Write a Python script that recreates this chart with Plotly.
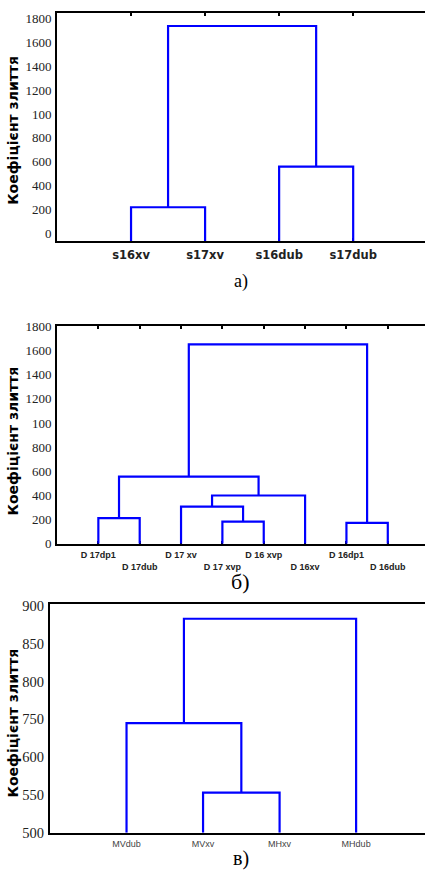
import plotly.graph_objects as go

W, H = 425, 877

# ---------------- data ----------------
# Panel а)
a_leaves = ["s16xv", "s17xv", "s16dub", "s17dub"]
a_merges = [(0, 1), (2, 3), (4, 5)]
a_heights = [217, 559, 1740]
a_ytickvals = [0, 200, 400, 600, 800, 1000, 1200, 1400, 1600, 1800]
a_yticktext = ["0", "200", "400", "600", "800", "100", "1200", "1400", "1600", "1800"]

# Panel б)
b_leaves = ["D 17dp1", "D 17dub", "D 17 xv", "D 17 xvp", "D 16 xvp", "D 16xv", "D 16dp1", "D 16dub"]
b_merges = [(0, 1), (3, 4), (2, 9), (10, 5), (8, 11), (6, 7), (12, 13)]
b_heights = [212, 182, 307, 399, 556, 173, 1651]
b_ytickvals = a_ytickvals
b_yticktext = a_yticktext

# Panel в) (axis units; tick labels as printed)
c_leaves = ["MVdub", "MVxv", "MHxv", "MHdub"]
c_merges = [(1, 2), (0, 4), (5, 3)]
c_heights = [553, 645, 783]
c_ytickvals = [500, 550, 600, 650, 700, 750, 800]
c_yticktext = ["500", "550", "600", "750", "800", "850", "900"]

TITLE = "Коефіцієнт злиття"
CAPTIONS = ["а)", "б)", "в)"]

BLUE = "#0000ff"
SERIF = "Liberation Serif, Times New Roman, serif"


def dendro_xy(n_leaves, merges, heights, base):
    pos = {i: float(i + 1) for i in range(n_leaves)}
    hgt = {i: base for i in range(n_leaves)}
    xs, ys = [], []
    for k, ((l, r), h) in enumerate(zip(merges, heights)):
        node = n_leaves + k
        xs += [pos[l], pos[l], pos[r], pos[r], None]
        ys += [hgt[l], h, h, hgt[r], None]
        pos[node] = (pos[l] + pos[r]) / 2
        hgt[node] = h
    return xs, ys


fig = go.Figure()

panels = [
    dict(leaves=a_leaves, merges=a_merges, heights=a_heights, yr=[-66, 1850],
         tv=a_ytickvals, tt=a_yticktext, xr=[0, 4.97], left=57, top=6, bottom=238,
         xfont=dict(family="DejaVu Sans", size=11.5, color="#222"), xbold=True,
         yfont=13, topticks=True, title_y=126, cap_y=279, cap_size=18),
    dict(leaves=b_leaves, merges=b_merges, heights=b_heights, yr=[0, 1800],
         tv=b_ytickvals, tt=b_yticktext, xr=[0, 8.9], left=57, top=325, bottom=546,
         xfont=dict(family="Liberation Sans", size=9, color="#222"), xbold=True,
         yfont=13, topticks=True, title_y=442, cap_y=585, cap_size=22),
    dict(leaves=c_leaves, merges=c_merges, heights=c_heights, yr=[500, 803],
         tv=c_ytickvals, tt=c_yticktext, xr=[0, 4.9], left=50, top=607, bottom=840,
         xfont=dict(family="Liberation Sans", size=9, color="#444"), xbold=False,
         yfont=14.5, topticks=False, title_y=729, cap_y=866, cap_size=20),
]

layout = dict(
    width=W, height=H, margin=dict(l=0, r=0, t=0, b=0),
    paper_bgcolor="white", plot_bgcolor="white", showlegend=False,
)
annotations = []

for i, p in enumerate(panels):
    sfx = "" if i == 0 else str(i + 1)
    xs, ys = dendro_xy(len(p["leaves"]), p["merges"], p["heights"], p["yr"][0])
    fig.add_trace(go.Scatter(x=xs, y=ys, mode="lines", xaxis="x" + sfx, yaxis="y" + sfx,
                             line=dict(color=BLUE, width=2.2), hoverinfo="skip"))
    if i == 1:
        ticktext = [("<b>%s</b>" % t) if k % 2 == 0 else ("<br><b>%s</b>" % t)
                    for k, t in enumerate(p["leaves"])]
    elif p["xbold"]:
        ticktext = ["<b>%s</b>" % t for t in p["leaves"]]
    else:
        ticktext = list(p["leaves"])
    layout["xaxis" + sfx] = dict(
        domain=[p["left"] / W, 1.0], range=p["xr"], anchor="y" + sfx,
        showline=True, linecolor="black", linewidth=2,
        mirror="ticks" if p["topticks"] else True,
        ticks="inside" if p["topticks"] else "", ticklen=3, tickwidth=1.5, tickcolor="black",
        tickvals=[k + 1 for k in range(len(p["leaves"]))], ticktext=ticktext,
        tickfont=p["xfont"], tickangle=0, showgrid=False, zeroline=False,
        layer="below traces", fixedrange=True, ticklabelstandoff=2,
    )
    layout["yaxis" + sfx] = dict(
        domain=[1 - p["bottom"] / H, 1 - p["top"] / H], range=p["yr"], anchor="x" + sfx,
        showline=True, linecolor="black", linewidth=2, mirror=False,
        tickvals=p["tv"], ticktext=p["tt"], ticks="",
        tickfont=dict(family=SERIF, size=p["yfont"], color="#222"),
        showgrid=False, zeroline=False, layer="below traces", fixedrange=True,
        ticklabelstandoff=1,
    )
    annotations.append(dict(
        text="<b>%s</b>" % TITLE, textangle=-90, xref="paper", yref="paper",
        x=13 / W, y=1 - p["title_y"] / H, showarrow=False, xanchor="center", yanchor="middle",
        font=dict(family="DejaVu Sans", size=14, color="black"),
    ))
    annotations.append(dict(
        text=CAPTIONS[i], xref="paper", yref="paper", x=241 / W, y=1 - p["cap_y"] / H,
        showarrow=False, xanchor="center", yanchor="middle",
        font=dict(family=SERIF, size=p["cap_size"], color="black"),
    ))

layout["annotations"] = annotations
fig.update_layout(**layout)
fig.write_html(
    "out.html",
    config={"displayModeBar": False},
    post_script="document.body.style.margin='0';document.body.style.overflow='hidden';",
)
